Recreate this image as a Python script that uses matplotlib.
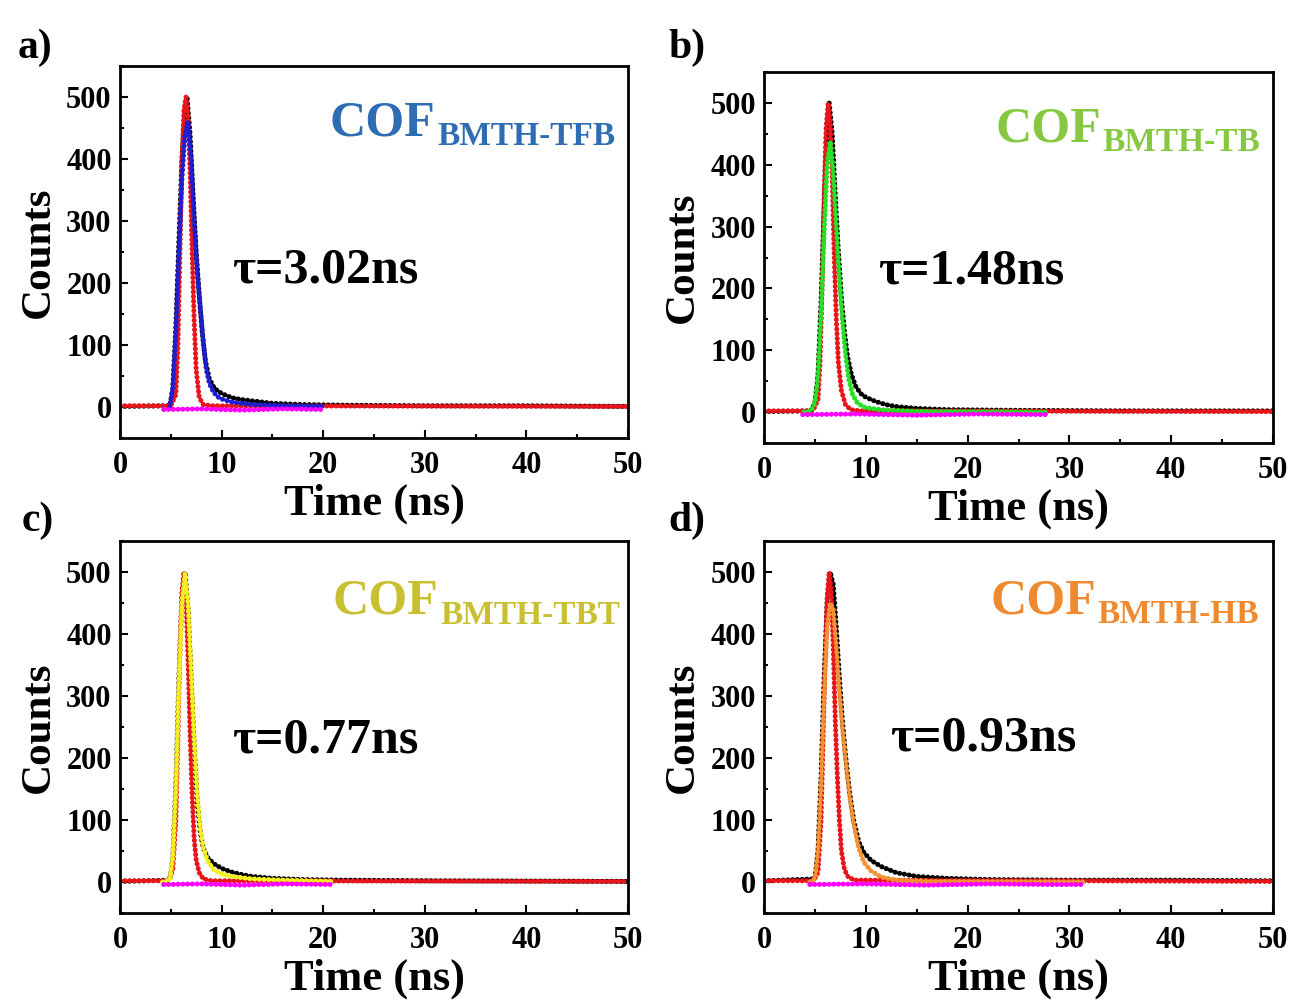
import matplotlib
matplotlib.use("Agg")
import matplotlib.pyplot as plt
from matplotlib.ticker import MultipleLocator

plt.rcParams["font.family"] = ["Liberation Serif", "DejaVu Serif"]
plt.rcParams["font.weight"] = "bold"

# ---- panel a: COF BMTH-TFB ----
a_irf_t = [0, 5.0, 5.5, 5.7, 5.9, 6.1, 6.3, 6.5, 6.7, 6.9, 7.1, 7.3, 7.5, 7.8, 8.2, 9, 50]
a_irf_c = [2, 2, 20, 100, 250, 400, 480, 500, 470, 380, 250, 140, 60, 15, 4, 2, 1]
a_dat_t = [0, 4.9, 5.2, 5.5, 5.8, 6.1, 6.4, 6.6, 6.9, 7.2, 7.5, 7.8, 8.1, 8.4, 8.8, 9.3, 10, 11, 12, 13, 15, 18, 22, 30, 40, 50]
a_dat_c = [1, 2, 30, 130, 270, 400, 480, 500, 440, 340, 250, 180, 120, 75, 45, 30, 22, 15, 12, 10, 6, 4, 3, 2, 2, 1]
a_fit_t = [4.9, 5.2, 5.5, 5.8, 6.1, 6.4, 6.7, 7.0, 7.3, 7.6, 7.9, 8.2, 8.5, 8.8, 9.2, 9.8, 11, 13, 16, 20]
a_fit_c = [0, 30, 120, 250, 370, 440, 460, 400, 300, 220, 160, 105, 60, 38, 24, 14, 8, 4, 2, 1]
a_bg_t = [4.3, 8, 12, 16, 19.8]
a_bg_c = [-4, -3, -5, -3, -4]

# ---- panel b: COF BMTH-TB ----
b_irf_t = [0, 4.8, 5.3, 5.5, 5.7, 5.9, 6.1, 6.3, 6.5, 6.7, 6.9, 7.1, 7.3, 7.6, 8.0, 8.5, 9.5, 50]
b_irf_c = [2, 2, 20, 80, 200, 350, 460, 500, 470, 380, 250, 150, 80, 35, 12, 4, 2, 1]
b_dat_t = [0, 4.6, 5.0, 5.3, 5.6, 5.9, 6.2, 6.4, 6.7, 7.0, 7.3, 7.6, 7.9, 8.2, 8.6, 9.0, 9.5, 10, 11, 12, 13, 15, 18, 24, 35, 50]
b_dat_c = [1, 2, 15, 60, 180, 330, 460, 500, 450, 350, 260, 185, 130, 90, 60, 42, 30, 24, 17, 12, 9, 6, 4, 3, 2, 2]
b_fit_t = [3.9, 4.6, 5.0, 5.3, 5.6, 5.9, 6.2, 6.5, 6.8, 7.1, 7.4, 7.7, 8.0, 8.3, 8.7, 9.2, 10, 12, 16, 28]
b_fit_c = [0, 2, 15, 60, 160, 290, 400, 438, 390, 300, 220, 150, 95, 55, 28, 14, 7, 3, 1, 0]
b_bg_t = [3.8, 9, 15, 21, 28]
b_bg_c = [-4, -3, -5, -3, -4]

# ---- panel c: COF BMTH-TBT ----
c_irf_t = [0, 4.8, 5.2, 5.5, 5.7, 5.9, 6.1, 6.3, 6.5, 6.7, 6.9, 7.1, 7.3, 7.5, 7.8, 8.2, 9, 50]
c_irf_c = [2, 2, 20, 100, 230, 380, 470, 500, 460, 360, 240, 140, 70, 35, 15, 5, 2, 1]
c_dat_t = [0, 4.9, 5.2, 5.5, 5.8, 6.1, 6.4, 6.7, 7.0, 7.3, 7.6, 7.9, 8.2, 8.6, 9.2, 10, 11, 12, 13, 15, 18, 22, 30, 50]
c_dat_c = [1, 3, 40, 160, 330, 460, 500, 440, 330, 220, 130, 80, 55, 40, 30, 22, 16, 12, 9, 6, 4, 3, 2, 1]
c_fit_t = [4.2, 4.9, 5.2, 5.5, 5.8, 6.1, 6.4, 6.7, 7.0, 7.3, 7.6, 7.9, 8.2, 8.6, 9.2, 10, 11, 13, 16, 21]
c_fit_c = [0, 3, 40, 150, 320, 450, 497, 450, 340, 230, 140, 85, 55, 35, 20, 13, 9, 5, 3, 1]
c_bg_t = [4.3, 8, 12, 16, 21]
c_bg_c = [-4, -3, -5, -3, -4]

# ---- panel d: COF BMTH-HB ----
d_irf_t = [0, 4.8, 5.3, 5.6, 5.8, 6.0, 6.2, 6.4, 6.6, 6.8, 7.0, 7.2, 7.4, 7.6, 7.9, 8.3, 9, 50]
d_irf_c = [2, 2, 15, 100, 230, 360, 460, 500, 470, 380, 260, 170, 100, 50, 20, 7, 3, 1]
d_dat_t = [0, 5.0, 5.3, 5.6, 5.9, 6.2, 6.5, 6.8, 7.1, 7.4, 7.7, 8.0, 8.4, 8.8, 9.3, 9.8, 10.5, 11.5, 13, 15, 18, 22, 30, 40, 50]
d_dat_c = [2, 5, 50, 170, 330, 450, 500, 480, 410, 330, 260, 205, 145, 100, 65, 48, 35, 25, 15, 9, 6, 4, 3, 3, 2]
d_fit_t = [4.5, 5.0, 5.3, 5.6, 5.9, 6.2, 6.5, 6.8, 7.1, 7.4, 7.7, 8.0, 8.4, 8.8, 9.3, 9.8, 10.5, 11.5, 13, 16, 31.5]
d_fit_c = [0, 5, 50, 160, 300, 410, 450, 440, 380, 310, 250, 200, 140, 95, 55, 32, 18, 8, 3, 1, 0]
d_bg_t = [4.5, 10, 16, 22, 28, 31.5]
d_bg_c = [-4, -3, -5, -3, -4, -4]

panels = [
    ("a)", "BMTH-TFB", "τ=3.02ns", "#1f1fd0", "#2e6db4",
     a_irf_t, a_irf_c, a_dat_t, a_dat_c, a_fit_t, a_fit_c, a_bg_t, a_bg_c),
    ("b)", "BMTH-TB", "τ=1.48ns", "#28e028", "#86c940",
     b_irf_t, b_irf_c, b_dat_t, b_dat_c, b_fit_t, b_fit_c, b_bg_t, b_bg_c),
    ("c)", "BMTH-TBT", "τ=0.77ns", "#f2f020", "#c8c030",
     c_irf_t, c_irf_c, c_dat_t, c_dat_c, c_fit_t, c_fit_c, c_bg_t, c_bg_c),
    ("d)", "BMTH-HB", "τ=0.93ns", "#f39234", "#f08a30",
     d_irf_t, d_irf_c, d_dat_t, d_dat_c, d_fit_t, d_fit_c, d_bg_t, d_bg_c),
]

# layout (figure fractions) and annotation spots (axes fractions)
rects = [[0.0928, 0.5624, 0.3929, 0.3716], [0.5909, 0.5574, 0.3937, 0.3706],
         [0.0928, 0.0879, 0.3929, 0.3716], [0.5909, 0.0879, 0.3937, 0.3716]]
cof_pos = [(0.413, 0.814), (0.454, 0.814), (0.419, 0.804), (0.444, 0.806)]
tau_pos = [(0.22, 0.417), (0.224, 0.431), (0.22, 0.432), (0.248, 0.437)]
lab_pos = [(0.014, 0.942), (0.517, 0.942), (0.017, 0.47), (0.517, 0.47)]

fig = plt.figure(figsize=(12.93, 10.01), dpi=100)
dots = dict(linestyle=(0, (0.05, 0.9)), dash_capstyle="round", linewidth=3.6)

for i, p in enumerate(panels):
    lab, sub, tau, fitc, txtc, it, ic, dt, dc, ft, fc, bt, bc = p
    ax = fig.add_axes(rects[i])
    ax.plot(dt, dc, color="black", **dots)
    ax.plot(it, ic, color="#e8151b", **dots)
    ax.plot(ft, fc, color=fitc, **dots)
    ax.plot(bt, bc, color="#ff00ff", **dots)

    ax.set_xlim(0, 50)
    ax.set_ylim(-50, 550)
    ax.xaxis.set_major_locator(MultipleLocator(10))
    ax.xaxis.set_minor_locator(MultipleLocator(5))
    ax.yaxis.set_major_locator(MultipleLocator(100))
    ax.yaxis.set_minor_locator(MultipleLocator(50))
    ax.tick_params(which="both", direction="in", width=1.5, labelsize=22)
    ax.tick_params(axis="x", pad=9)
    ax.tick_params(axis="y", pad=6)
    ax.tick_params(which="major", length=6)
    ax.tick_params(which="minor", length=3)
    for s in ax.spines.values():
        s.set_linewidth(2)
    ax.set_xlabel("Time (ns)", fontsize=32, fontweight="bold", labelpad=3)
    ax.set_ylabel("Counts", fontsize=31, fontweight="bold", labelpad=6)

    cof = ax.text(cof_pos[i][0], cof_pos[i][1], "COF", transform=ax.transAxes,
                  fontsize=36, fontweight="bold", color=txtc, va="baseline")
    ax.annotate(sub, xy=(1, 0), xycoords=cof, xytext=(1, -4), textcoords="offset points",
                fontsize=24, fontweight="bold", color=txtc, ha="left", va="bottom")
    ax.text(tau_pos[i][0], tau_pos[i][1], tau, transform=ax.transAxes,
            fontsize=36, fontweight="bold", va="baseline")
    fig.text(lab_pos[i][0], lab_pos[i][1], lab, fontsize=30, fontweight="bold")

fig.savefig("out.png", dpi=100, facecolor="white")
